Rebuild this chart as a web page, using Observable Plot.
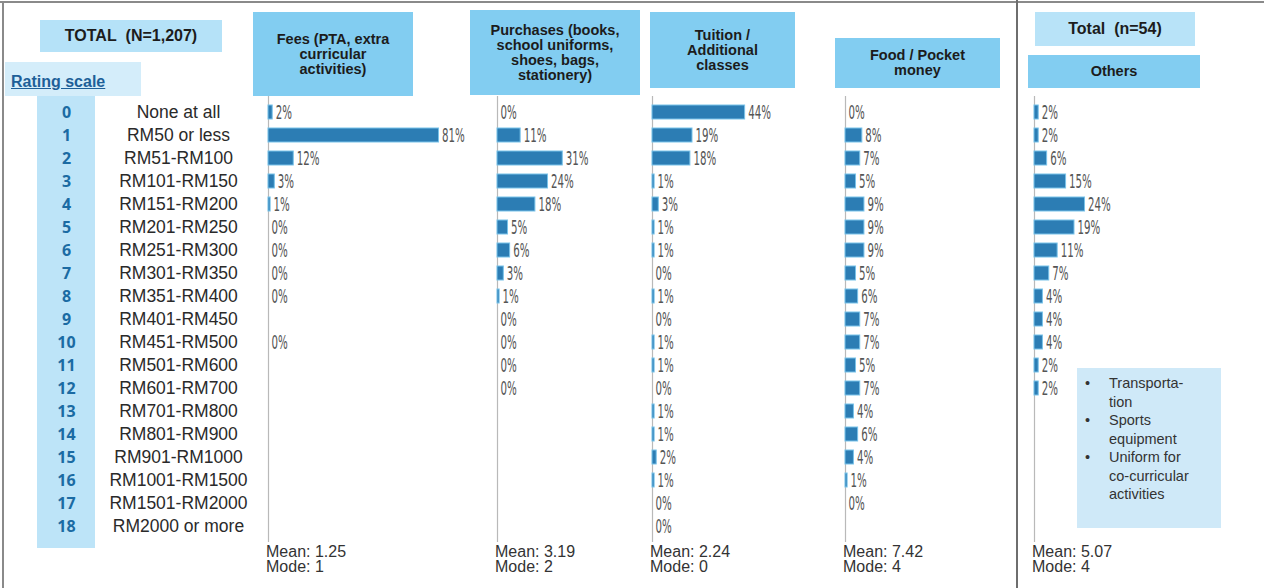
<!DOCTYPE html>
<html>
<head>
<meta charset="utf-8">
<script src="https://cdn.jsdelivr.net/npm/d3@7"></script>
<script src="https://cdn.jsdelivr.net/npm/@observablehq/plot@0.6"></script>
<style>
  html, body { margin: 0; padding: 0; background: #fff; }
  #page { position: relative; width: 1264px; height: 588px; overflow: hidden; font-family: Arial, "Liberation Sans", sans-serif; background: #fff; }
  .box { position: absolute; display: flex; align-items: center; justify-content: center; text-align: center; font-weight: bold; color: #1c1c1c; box-sizing: border-box; }
  .hdr { background: #82cdf1; font-size: 14.5px; line-height: 15px; }
  .stat { position: absolute; top: 544px; font-size: 16px; line-height: 15px; color: #333; }
</style>
</head>
<body>
<div id="page"></div>
<script>
// ---------------- data ----------------
const codes = [0,1,2,3,4,5,6,7,8,9,10,11,12,13,14,15,16,17,18];
const scaleLabels = ["None at all","RM50 or less","RM51-RM100","RM101-RM150","RM151-RM200","RM201-RM250","RM251-RM300","RM301-RM350","RM351-RM400","RM401-RM450","RM451-RM500","RM501-RM600","RM601-RM700","RM701-RM800","RM801-RM900","RM901-RM1000","RM1001-RM1500","RM1501-RM2000","RM2000 or more"];
const fees      = [2,81,12,3,1,0,0,0,0,null,0,null,null,null,null,null,null,null,null];
const purchases = [0,11,31,24,18,5,6,3,1,0,0,0,0,null,null,null,null,null,null];
const tuition   = [44,19,18,1,3,1,1,0,1,0,1,1,0,1,1,2,1,0,0];
const food      = [0,8,7,5,9,9,9,5,6,7,7,5,7,4,6,4,1,0,null];
const others    = [2,2,6,15,24,19,11,7,4,4,4,2,2,null,null,null,null,null,null];
const panelTitles = ["Fees (PTA, extra<br>curricular<br>activities)","Purchases (books,<br>school uniforms,<br>shoes, bags,<br>stationery)","Tuition /<br>Additional<br>classes","Food / Pocket<br>money","Others"];
const means = ["1.25","3.19","2.24","7.42","5.07"];
const modes = ["1","2","0","4","4"];
const otherItems = ["Transporta-<br>tion","Sports<br>equipment","Uniform for<br>co-curricular<br>activities"];

// ---------------- layout ----------------
const page = document.getElementById("page");
const PH = 446;
const bandPad = 0.38;
function addDiv(style, html, cls) {
  const d = document.createElement("div");
  if (cls) d.className = cls;
  d.setAttribute("style", style);
  d.innerHTML = html || "";
  page.appendChild(d);
  return d;
}
addDiv("position:absolute;left:0;top:1px;width:1264px;height:2px;background:#8a8a8a;");
addDiv("position:absolute;left:2px;top:1px;width:2px;height:587px;background:#8a8a8a;");
addDiv("position:absolute;left:1016px;top:0;width:2px;height:588px;background:#6e6e6e;");

addDiv("left:40px;top:20px;width:182px;height:32px;background:#b5e2f8;font-size:16px;", "TOTAL&nbsp;&nbsp;(N=1,207)", "box");
addDiv("position:absolute;left:5px;top:62px;width:136px;height:34px;background:#d4edfa;");
addDiv("position:absolute;left:11px;top:73px;font-size:16px;font-weight:bold;color:#1d5f98;text-decoration:underline;", "Rating scale");
addDiv("position:absolute;left:37px;top:96px;width:58px;height:452px;background:#bde4f8;");

const hdrBoxes = [
  [253, 12, 160, 84], [470, 10, 170, 85], [650, 12, 145, 76], [835, 38, 165, 50], [1028, 55, 172, 33]
];
hdrBoxes.forEach((b, i) => addDiv(`left:${b[0]}px;top:${b[1]}px;width:${b[2]}px;height:${b[3]}px;`, panelTitles[i], "box hdr"));
addDiv("left:1035px;top:12px;width:160px;height:34px;background:#b8e3f8;font-size:16px;", "Total&nbsp;&nbsp;(n=54)", "box");

// ---------------- left label column ----------------
const rows = codes.map((c, i) => ({code: c, label: scaleLabels[i]}));
const left = Plot.plot({
  width: 260, height: PH,
  margin: 0,
  x: {axis: null},
  y: {type: "band", domain: codes, padding: bandPad, axis: null},
  marks: [
    Plot.text(rows, {y: "code", text: d => String(d.code), frameAnchor: "left", dx: 66, textAnchor: "middle", fill: "#1b6ba3", fontWeight: "bold", fontSize: 16}),
    Plot.text(rows, {y: "code", text: "label", frameAnchor: "left", dx: 178, textAnchor: "middle", fill: "#2a2a2a", fontSize: 17.5, fontFamily: "Arial, Liberation Sans, sans-serif"})
  ]
});
left.style.position = "absolute"; left.style.left = "0px"; left.style.top = "96px"; left.style.background = "transparent";
page.appendChild(left);

// ---------------- panels ----------------
const series = [fees, purchases, tuition, food, others];
const baseX = [268, 497, 652, 845, 1034];
const PW = 200;
function condense(svg, s) {
  svg.querySelectorAll("text").forEach(t => {
    const tr = t.getAttribute("transform");
    if (tr) {
      t.setAttribute("transform", tr + ` scale(${s},1)`);
    } else {
      const x = +t.getAttribute("x") || 0, y = +t.getAttribute("y") || 0;
      t.removeAttribute("x"); t.removeAttribute("y");
      t.setAttribute("transform", `translate(${x},${y}) scale(${s},1)`);
    }
  });
}
series.forEach((vals, p) => {
  const data = codes.map((c, i) => ({code: c, value: vals[i]})).filter(d => d.value !== null);
  const svg = Plot.plot({
    width: PW, height: PH,
    margin: 0,
    x: {domain: [0, 95], range: [0, PW], axis: null},
    y: {type: "band", domain: codes, padding: bandPad, axis: null},
    marks: [
      Plot.ruleX([0], {stroke: "#b9b9b9", strokeWidth: 1.2}),
      Plot.barX(data, {x: "value", y: "code", fill: "#2c7db4", stroke: "#79c3ea", strokeWidth: 1}),
      Plot.text(data, {x: "value", y: "code", text: d => d.value + "%", textAnchor: "start", dx: 3, fill: "#555", fontSize: 19, fontFamily: "DejaVu Sans Condensed, Arial, sans-serif"})
    ]
  });
  condense(svg, 0.6);
  svg.style.position = "absolute"; svg.style.left = baseX[p] + "px"; svg.style.top = "96px"; svg.style.background = "transparent"; svg.style.overflow = "visible";
  page.appendChild(svg);
  addDiv(`left:${baseX[p] - 2}px;`, `Mean: ${means[p]}<br>Mode: ${modes[p]}`, "stat");
});

addDiv("position:absolute;left:1077px;top:368px;width:144px;height:160px;background:#cfe9f8;box-sizing:border-box;padding:6px 4px 0 8px;font-size:14.5px;line-height:18.5px;color:#333;",
  otherItems.map(t => `<div style="display:flex;"><span style="width:24px;flex:none;">•</span><span>${t}</span></div>`).join(""));
</script>
</body>
</html>
